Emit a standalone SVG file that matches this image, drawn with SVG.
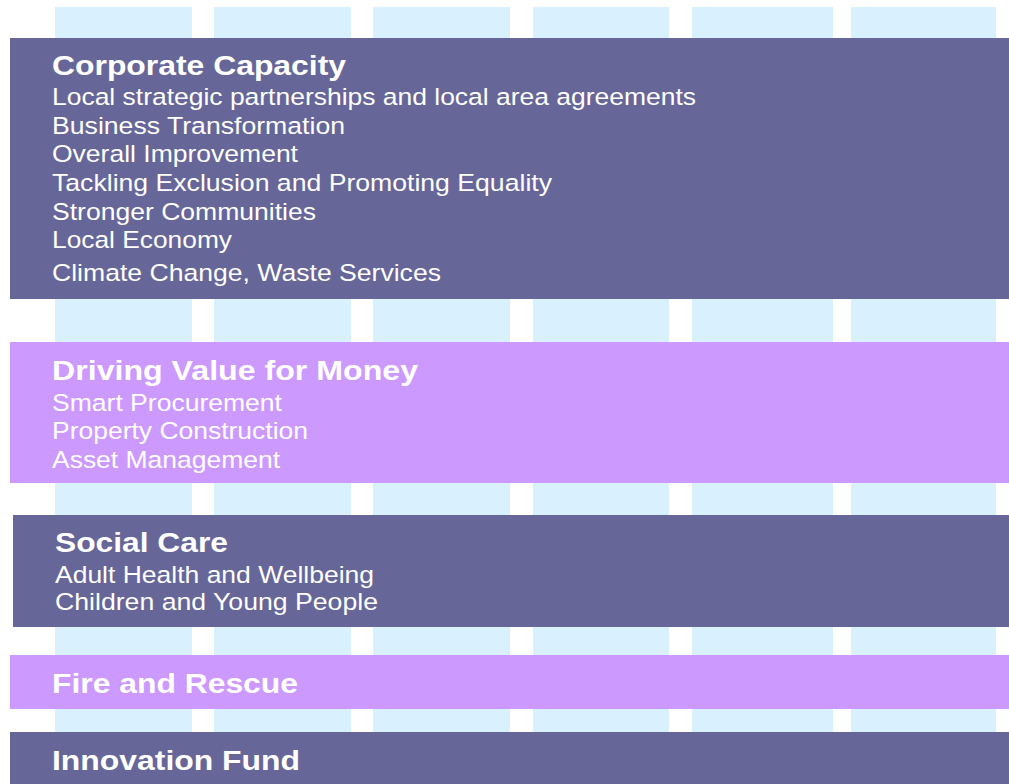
<svg xmlns="http://www.w3.org/2000/svg" width="1009" height="784" viewBox="0 0 1009 784">
<style>
.col{fill:#d9f0ff}
.dark{fill:#666699}
.light{fill:#cc99ff}
text{font-family:"Liberation Sans",Arial,sans-serif;fill:#ffffff}
.t{font-size:28px;font-weight:bold}
.b{font-size:24.5px}
</style>
<rect width="1009" height="784" fill="#ffffff"/>
<g id="columns">
<rect class="col" x="55" y="7" width="137" height="777"/>
<rect class="col" x="214" y="7" width="137" height="777"/>
<rect class="col" x="373" y="7" width="137" height="777"/>
<rect class="col" x="533" y="7" width="136" height="777"/>
<rect class="col" x="692" y="7" width="141" height="777"/>
<rect class="col" x="851" y="7" width="145" height="777"/>
</g>
<g id="corporate-capacity">
<rect class="dark" x="10" y="38" width="999" height="261"/>
<text class="t" x="52" y="75" textLength="294" lengthAdjust="spacingAndGlyphs">Corporate Capacity</text>
<text class="b" x="52" y="105" textLength="644" lengthAdjust="spacingAndGlyphs">Local strategic partnerships and local area agreements</text>
<text class="b" x="52" y="134" textLength="293" lengthAdjust="spacingAndGlyphs">Business Transformation</text>
<text class="b" x="52" y="162" textLength="246" lengthAdjust="spacingAndGlyphs">Overall Improvement</text>
<text class="b" x="52" y="191" textLength="500" lengthAdjust="spacingAndGlyphs">Tackling Exclusion and Promoting Equality</text>
<text class="b" x="52" y="220" textLength="264" lengthAdjust="spacingAndGlyphs">Stronger Communities</text>
<text class="b" x="52" y="248" textLength="180" lengthAdjust="spacingAndGlyphs">Local Economy</text>
<text class="b" x="52" y="281" textLength="389" lengthAdjust="spacingAndGlyphs">Climate Change, Waste Services</text>
</g>
<g id="driving-value">
<rect class="light" x="10" y="342" width="999" height="141"/>
<text class="t" x="52" y="380" textLength="366" lengthAdjust="spacingAndGlyphs">Driving Value for Money</text>
<text class="b" x="52" y="411" textLength="230" lengthAdjust="spacingAndGlyphs">Smart Procurement</text>
<text class="b" x="52" y="439" textLength="256" lengthAdjust="spacingAndGlyphs">Property Construction</text>
<text class="b" x="52" y="468" textLength="228" lengthAdjust="spacingAndGlyphs">Asset Management</text>
</g>
<g id="social-care">
<rect class="dark" x="13" y="515" width="996" height="112"/>
<text class="t" x="55" y="552" textLength="173" lengthAdjust="spacingAndGlyphs">Social Care</text>
<text class="b" x="55" y="583" textLength="319" lengthAdjust="spacingAndGlyphs">Adult Health and Wellbeing</text>
<text class="b" x="55" y="610" textLength="323" lengthAdjust="spacingAndGlyphs">Children and Young People</text>
</g>
<g id="fire-rescue">
<rect class="light" x="10" y="655" width="999" height="54"/>
<text class="t" x="52" y="693" textLength="246" lengthAdjust="spacingAndGlyphs">Fire and Rescue</text>
</g>
<g id="innovation-fund">
<rect class="dark" x="10" y="732" width="999" height="52"/>
<text class="t" x="52" y="770" textLength="248" lengthAdjust="spacingAndGlyphs">Innovation Fund</text>
</g>
<g id="connectors"></g>
</svg>
